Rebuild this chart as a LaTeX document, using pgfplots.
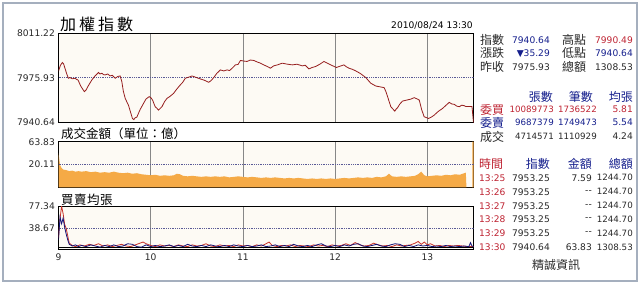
\documentclass[border=0pt]{standalone}
\usepackage{pgfplots}
\pgfplotsset{compat=1.18}
\usepackage{fontspec}
\setmainfont{DejaVu Sans}
\newfontfamily\cjk{Noto Sans CJK TC}
\definecolor{panelbg}{RGB}{253,250,244}
\definecolor{gridgray}{RGB}{135,135,135}
\definecolor{dotcol}{RGB}{90,90,150}
\definecolor{idxline}{RGB}{150,30,30}
\definecolor{orangefill}{RGB}{245,170,70}
\definecolor{navy}{RGB}{20,30,140}
\definecolor{redt}{RGB}{190,35,50}
\definecolor{labgray}{RGB}{40,40,40}
\definecolor{bordercol}{RGB}{165,175,190}
\definecolor{bluel}{RGB}{20,20,120}
\definecolor{redl}{RGB}{200,50,40}
\newcommand\numfont{\fontsize{9.1bp}{10bp}\selectfont}
\newcommand\smnum{\fontsize{8.7bp}{10bp}\selectfont}
\newcommand\zh{\cjk\fontsize{12bp}{13bp}\selectfont}
\pgfplotsset{panel/.style={
  scale only axis, width=415bp, xmin=0, xmax=270,
  anchor=north west,
  axis line style={black, line width=1bp},
  axis background/.style={fill=panelbg},
  xmajorgrids, major grid style={gridgray, line width=0.8bp},
  tick style={draw=none},
  xtick={60,120,180,240}, xticklabels={},
  yticklabel style={font=\numfont, text=labgray, inner sep=0pt, xshift=-3.5bp},
}}
\begin{document}
\begin{tikzpicture}
\path[use as bounding box] (0,0) rectangle (640bp,-283bp);
\draw[bordercol, line width=1.5bp] (3bp,-3bp) rectangle (637bp,-281bp);

% ---------- index panel ----------
\begin{axis}[panel, at={(58.5bp,-33bp)}, height=89.5bp,
  ymin=7940.64, ymax=8011.22,
  ytick={7940.64,7975.93,8011.22}, yticklabels={7940.64,7975.93,8011.22}]
\addplot[dotcol, densely dotted, line width=0.8bp] coordinates {(0,7975.93) (270,7975.93)};
\addplot[idxline, line width=0.8bp] coordinates {
(0,7981.09) (1.2,7985.6) (2.5,7987.99) (3.3,7986.9) (4.2,7983.47) (5.3,7979.2) (6.4,7975.54) (7.5,7976.09)
(9.0,7975.1) (10.8,7975.54) (11.8,7974.6) (12.7,7974.19) (14.5,7969.3) (16.8,7964.99) (18.0,7966.4) (19.2,7969.19)
(21.7,7974.19) (23.8,7977.4) (26.0,7980.06) (27.0,7978.9) (28.2,7979.50) (29.3,7978.4)
(30.3,7978.15) (32.0,7978.9) (33.6,7977.36) (35.0,7977.9) (36.9,7975.54) (38.5,7976.9) (40.1,7977.36) (41.2,7972.92) (42.2,7965.2) (43.4,7959.68)
(44.5,7956.8) (45.5,7954.36) (46.8,7949.1) (48.1,7943.82) (49.0,7942.9) (49.9,7944.37) (51.0,7944.9) (52.0,7947.78) (53.2,7951.1) (54.7,7954.36) (56.9,7959.12)
(59.0,7961.02) (60.2,7960.1) (61.2,7958.33) (62.9,7953.09) (64.0,7951.9) (65.1,7950.40) (66.2,7951.8) (67.3,7953.09) (68.9,7956.9) (70.6,7959.68)
(72.5,7961.2) (74.9,7963.64) (76.9,7966.9) (79.2,7970.22) (80.8,7972.3) (82.5,7975.54) (84.5,7976.3) (86.9,7977.36) (89.5,7976.2) (92.3,7974.98) (95.0,7973.9) (97.7,7972.36)
(99.2,7973.6) (101.0,7976.09) (103.0,7979.4) (105.3,7982.12) (107.5,7981.3) (109.7,7982.12) (111.3,7981.6) (113.0,7983.47) (115.1,7986.08) (116.8,7986.4) (118.4,7989.57)
(120.5,7989.1) (122.7,7988.78) (124.8,7989.9) (127.1,7989.57) (129.2,7988.4) (131.4,7987.43) (133.5,7986.1) (135.8,7984.81) (137.9,7983.47) (140.0,7985.3) (142.5,7986.1) (145.6,7987.43)
(148.6,7986.7) (152.1,7986.08) (155.2,7986.6) (158.6,7985.29) (160.5,7985.8) (162.9,7982.91) (165.0,7984.0) (167.3,7984.81) (170.0,7986.6) (172.7,7988.78) (175.0,7987.4) (177.1,7986.08)
(180.8,7984.02) (183.0,7985.0) (185.7,7986.08) (187.5,7984.4) (189.0,7983.47) (191.2,7982.6) (193.4,7981.32) (196.5,7979.2) (199.9,7976.09) (203.2,7971.57)
(206.4,7969.43) (209.0,7968.8) (211.8,7968.16) (213.0,7965.1) (214.1,7961.02) (216.2,7953.09) (218.8,7949.60) (219.6,7951.1) (220.6,7952.30)
(222.0,7955.1) (223.8,7957.53) (226.5,7958.3) (229.3,7959.12) (231.4,7960.23) (233.0,7959.4) (234.7,7958.33) (236.3,7950.7) (237.9,7945.17) (240.8,7943.82)
(242.6,7944.9) (244.4,7946.43) (247.0,7949.3) (249.9,7951.75) (252.0,7954.1) (254.2,7956.50) (255.8,7955.3) (257.5,7954.92) (259.2,7953.5) (260.8,7953.09) (262.3,7954.3) (264.0,7953.89)
(265,7953.25) (269,7953.25) (270,7940.64)};
\end{axis}

% ---------- amount panel ----------
\begin{axis}[panel, at={(58.5bp,-141.7bp)}, height=45.6bp,
  ymin=0, ymax=87.44,
  ytick={43.72,87.44}, yticklabels={20.11,63.83}]
\addplot[fill=orangefill, draw=none] coordinates {
(0,0) (0,65) (1,43) (2,37) (3,34) (5,33) (7,31) (9,32) (11,30) (13,31) (15,30) (18,31) (21,29)
(24,30) (27,28) (30,29) (33,28) (36,30) (39,28) (42,27) (45,28) (48,26) (51,27) (54,25)
(57,24) (60,23) (63,24) (66,22) (69,23) (72,22) (75,23) (77,26) (79,25) (81,22) (84,21)
(87,22) (90,21) (93,20) (96,21) (99,20) (102,21) (105,20) (108,21) (111,19) (114,20) (117,21)
(120,20) (123,19) (126,20) (129,19) (132,18) (135,19) (138,18) (141,19) (144,18) (147,17)
(150,18) (153,17) (156,18) (159,17) (162,16) (165,17) (168,16) (171,17) (174,16) (177,17)
(180,16) (183,17) (186,18) (189,17) (192,18) (195,19) (198,18) (201,19) (204,18) (207,20)
(210,19) (213,21) (215,26) (217,21) (220,20) (223,21) (226,20) (229,21) (232,22) (234,25)
(236,30) (238,23) (240,21) (243,22) (246,23) (249,22) (252,24) (255,23) (258,25) (261,24)
(263,26) (265,28) (265.4,0) (269.3,0) (269.3,87.44) (270,87.44) (270,0)} \closedcycle;
\addplot[dotcol, densely dotted, line width=0.8bp] coordinates {(0,43.72) (270,43.72)};
\end{axis}

% ---------- average lots panel ----------
\begin{axis}[panel, at={(58.5bp,-206bp)}, height=44bp,
  ymin=0, ymax=77.34,
  ytick={38.67,77.34}, yticklabels={38.67,77.34},
  xtick={0,60,120,180,240}, xticklabels={9,10,11,12,13},
  xticklabel style={font=\numfont, text=labgray, inner sep=0pt, yshift=-3.5bp}]
\addplot[dotcol, densely dotted, line width=0.8bp] coordinates {(0,38.67) (270,38.67)};
\addplot[black, line width=1.4bp] coordinates {(0,4.24) (270,4.24)};
\addplot[redl, line width=0.8bp] coordinates {
(0,22) (1,55) (2,77) (3,64) (4,45) (5,38) (6,25) (7,12) (9,8) (11,6) (14,9) (17,7) (20,10)
(23,8) (26,11) (29,7) (32,9) (35,6) (38,8) (41,10) (44,7) (47,6) (50,9) (53,12) (55,14) (57,11)
(60,8) (63,6) (66,9) (69,7) (72,8) (75,6) (78,9) (81,7) (84,6) (87,9) (90,7) (93,8) (96,11)
(99,7) (102,6) (105,9) (108,7) (111,8) (114,6) (117,9) (120,7) (123,8) (126,6) (129,9) (132,7)
(135,11) (137,14) (139,8) (142,6) (145,8) (148,7) (151,9) (154,6) (157,8) (160,7) (163,6)
(166,9) (169,7) (172,8) (175,6) (178,9) (181,7) (184,8) (187,11) (190,8) (193,13) (196,9)
(199,7) (202,8) (205,12) (208,9) (211,7) (214,8) (217,6) (220,9) (223,7) (226,8) (229,9)
(232,12) (234,15) (236,10) (238,14) (240,9) (242,11) (245,7) (248,8) (251,6) (254,8) (257,7)
(260,8) (263,7) (266,6) (270,6)};
\addplot[bluel, line width=0.8bp] coordinates {
(0,18) (1,58) (2,46) (3,56) (4,40) (5,28) (6,18) (7,10) (9,7) (11,9) (13,6) (15,8) (18,6)
(21,9) (24,7) (27,5) (30,8) (33,6) (36,9) (39,6) (42,7) (45,11) (48,10) (51,6) (54,5) (57,9)
(60,6) (63,8) (66,6) (69,7) (72,9) (75,6) (78,8) (81,6) (84,10) (87,7) (90,6) (93,8) (96,6)
(99,9) (102,7) (105,6) (108,8) (111,6) (114,9) (117,7) (120,6) (123,8) (126,6) (129,7) (132,9)
(135,6) (138,7) (141,9) (144,6) (147,8) (150,6) (153,10) (156,7) (159,6) (162,8) (165,6)
(168,9) (171,11) (174,7) (177,6) (180,8) (183,6) (186,9) (189,7) (192,10) (195,11) (198,7)
(201,6) (204,8) (207,10) (210,7) (213,6) (216,9) (219,11) (222,10) (225,6) (228,8) (231,6)
(234,9) (237,7) (240,8) (243,6) (246,7) (249,6) (252,8) (255,6) (258,7) (261,6) (264,7)
(267,6) (268,13) (269,7) (270,6)};
\end{axis}

\begin{scope}[x=1bp,y=1bp, every node/.style={inner sep=0pt}]
% titles
\node[anchor=west] at (60,-24) {\cjk\fontsize{16bp}{16bp}\selectfont 加\hspace{3bp}權\hspace{3bp}指\hspace{3bp}數};
\node[anchor=east] at (473,-26) {\numfont 2010/08/24 13:30};
\node[anchor=west] at (61,-134) {\cjk\fontsize{12.5bp}{13bp}\selectfont 成交金額（單位：億）};
\node[anchor=west] at (61,-200) {\cjk\fontsize{12.5bp}{13bp}\selectfont 買\hspace{0.5bp}賣\hspace{0.5bp}均\hspace{0.5bp}張};

% right info block
\node[anchor=west, text=labgray] at (480,-40) {\zh 指數};
\node[anchor=east, text=navy] at (550,-40) {\numfont 7940.64};
\node[anchor=west, text=labgray] at (562,-40) {\zh 高點};
\node[anchor=east, text=redt] at (633,-40) {\numfont 7990.49};

\node[anchor=west, text=labgray] at (480,-53.3) {\zh 漲跌};
\node[anchor=east, text=navy] at (550,-53.3) {\numfont ▼35.29};
\node[anchor=west, text=labgray] at (562,-53.3) {\zh 低點};
\node[anchor=east, text=navy] at (633,-53.3) {\numfont 7940.64};

\node[anchor=west, text=labgray] at (480,-66.7) {\zh 昨收};
\node[anchor=east, text=labgray] at (550,-66.7) {\numfont 7975.93};
\node[anchor=west, text=labgray] at (562,-66.7) {\zh 總額};
\node[anchor=east, text=labgray] at (633,-66.7) {\numfont 1308.53};

\node[anchor=east, text=navy] at (553,-97) {\zh 張數};
\node[anchor=east, text=navy] at (593,-97) {\zh 筆數};
\node[anchor=east, text=navy] at (633,-97) {\zh 均張};

\node[anchor=west, text=redt] at (480,-109.5) {\zh 委買};
\node[anchor=east, text=redt] at (554,-109.5) {\smnum 10089773};
\node[anchor=east, text=redt] at (597,-109.5) {\smnum 1736522};
\node[anchor=east, text=redt] at (633,-109.5) {\numfont 5.81};

\node[anchor=west, text=navy] at (480,-122.5) {\zh 委賣};
\node[anchor=east, text=navy] at (554,-122.5) {\smnum 9687379};
\node[anchor=east, text=navy] at (597,-122.5) {\smnum 1749473};
\node[anchor=east, text=navy] at (633,-122.5) {\numfont 5.54};

\node[anchor=west, text=labgray] at (480,-136.5) {\zh 成交};
\node[anchor=east, text=labgray] at (554,-136.5) {\smnum 4714571};
\node[anchor=east, text=labgray] at (597,-136.5) {\smnum 1110929};
\node[anchor=east, text=labgray] at (633,-136.5) {\numfont 4.24};

\node[anchor=west, text=redt] at (479,-163.5) {\zh 時間};
\node[anchor=east, text=navy] at (550,-163.5) {\zh 指數};
\node[anchor=east, text=navy] at (592,-163.5) {\zh 金額};
\node[anchor=east, text=navy] at (633,-163.5) {\zh 總額};

\foreach \t/\i/\a/\s/\yy in {13:25/7953.25/7.59/1244.70/177.7, 13:26/7953.25/-{}-/1244.70/191.7,
  13:27/7953.25/-{}-/1244.70/205.7, 13:28/7953.25/-{}-/1244.70/219.5,
  13:29/7953.25/-{}-/1244.70/233.5, 13:30/7940.64/63.83/1308.53/247.5}{
  \node[anchor=west, text=redt] at (479,-\yy) {\numfont \t};
  \node[anchor=east, text=labgray] at (550,-\yy) {\numfont \i};
  \node[anchor=east, text=labgray] at (592,-\yy) {\numfont \a};
  \node[anchor=east, text=labgray] at (633,-\yy) {\smnum \s};
}
\node[text=labgray] at (556,-265) {\zh 精誠資訊};
\end{scope}
\end{tikzpicture}
\end{document}
